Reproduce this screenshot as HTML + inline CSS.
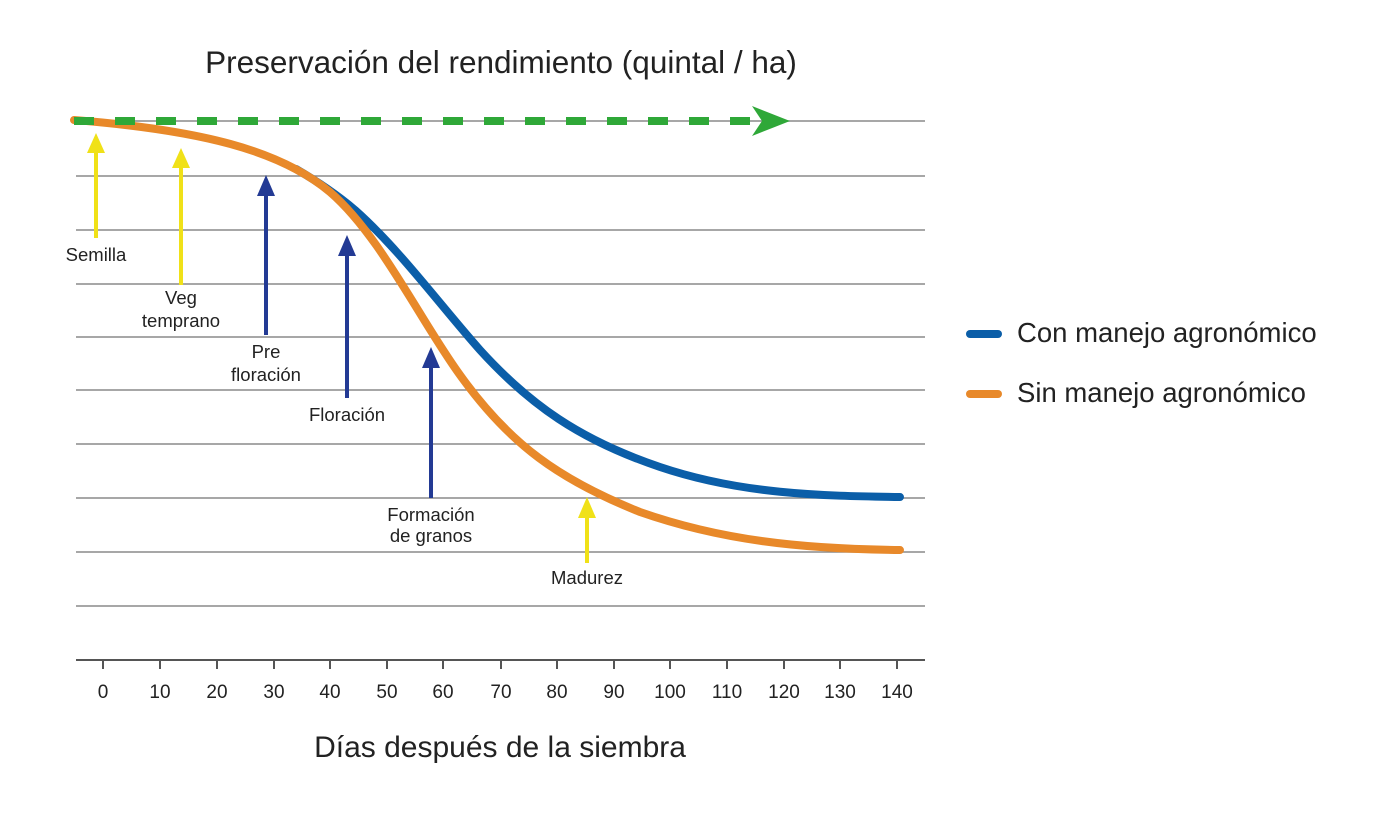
<!DOCTYPE html>
<html><head><meta charset="utf-8"><style>
html,body{margin:0;padding:0;background:#fff;}
svg{display:block;font-family:"Liberation Sans",sans-serif;}
</style></head><body>
<svg width="1400" height="816" viewBox="0 0 1400 816" xmlns="http://www.w3.org/2000/svg">
<text x="501" y="73" font-size="31.5" text-anchor="middle" fill="#222">Preservación del rendimiento (quintal / ha)</text>
<g stroke="#8a8a8a" stroke-width="1.5">
<line x1="76" y1="121" x2="925" y2="121"/>
<line x1="76" y1="176" x2="925" y2="176"/>
<line x1="76" y1="230" x2="925" y2="230"/>
<line x1="76" y1="284" x2="925" y2="284"/>
<line x1="76" y1="337" x2="925" y2="337"/>
<line x1="76" y1="390" x2="925" y2="390"/>
<line x1="76" y1="444" x2="925" y2="444"/>
<line x1="76" y1="498" x2="925" y2="498"/>
<line x1="76" y1="552" x2="925" y2="552"/>
<line x1="76" y1="606" x2="925" y2="606"/>
</g>
<line x1="76" y1="660" x2="925" y2="660" stroke="#555" stroke-width="2"/>
<g stroke="#555" stroke-width="2">
<line x1="103" y1="660" x2="103" y2="669"/><line x1="160" y1="660" x2="160" y2="669"/><line x1="217" y1="660" x2="217" y2="669"/><line x1="274" y1="660" x2="274" y2="669"/><line x1="330" y1="660" x2="330" y2="669"/><line x1="387" y1="660" x2="387" y2="669"/><line x1="443" y1="660" x2="443" y2="669"/><line x1="501" y1="660" x2="501" y2="669"/><line x1="557" y1="660" x2="557" y2="669"/><line x1="614" y1="660" x2="614" y2="669"/><line x1="670" y1="660" x2="670" y2="669"/><line x1="727" y1="660" x2="727" y2="669"/><line x1="784" y1="660" x2="784" y2="669"/><line x1="840" y1="660" x2="840" y2="669"/><line x1="897" y1="660" x2="897" y2="669"/>
</g>
<g font-size="19" fill="#222" text-anchor="middle">
<text x="103" y="698">0</text><text x="160" y="698">10</text><text x="217" y="698">20</text><text x="274" y="698">30</text><text x="330" y="698">40</text><text x="387" y="698">50</text><text x="443" y="698">60</text><text x="501" y="698">70</text><text x="557" y="698">80</text><text x="614" y="698">90</text><text x="670" y="698">100</text><text x="727" y="698">110</text><text x="784" y="698">120</text><text x="840" y="698">130</text><text x="897" y="698">140</text>
</g>
<text x="500" y="757" font-size="30" text-anchor="middle" fill="#222">Días después de la siembra</text>

<path d="M296,169 C315,180 335,193 355,210 C400,250 440,305 480,350 C530,405 580,440 660,467 C740,494 820,496 900,497" fill="none" stroke="#0b5ea8" stroke-width="8" stroke-linecap="round"/>
<path d="M74,120 C200,130 280,150 330,192 C380,235 420,320 460,375 C510,445 560,480 640,512 C720,540 800,549 900,550" fill="none" stroke="#e8892a" stroke-width="8" stroke-linecap="round"/>

<line x1="74" y1="121" x2="760" y2="121" stroke="#2fa838" stroke-width="8" stroke-dasharray="20,21"/>
<polygon points="752,106 790,121 752,136 762,121" fill="#2fa838"/>

<g stroke-width="4">
<line x1="96" y1="238" x2="96" y2="145" stroke="#f0e118"/><polygon points="87,153 96,133 105,153" fill="#f0e118"/>
<line x1="181" y1="285" x2="181" y2="160" stroke="#f0e118"/><polygon points="172,168 181,148 190,168" fill="#f0e118"/>
<line x1="266" y1="335" x2="266" y2="188" stroke="#233a94"/><polygon points="257,196 266,175 275,196" fill="#233a94"/>
<line x1="347" y1="398" x2="347" y2="248" stroke="#233a94"/><polygon points="338,256 347,235 356,256" fill="#233a94"/>
<line x1="431" y1="498" x2="431" y2="360" stroke="#233a94"/><polygon points="422,368 431,347 440,368" fill="#233a94"/>
<line x1="587" y1="563" x2="587" y2="510" stroke="#f0e118"/><polygon points="578,518 587,497 596,518" fill="#f0e118"/>
</g>
<g font-size="18.5" fill="#222" text-anchor="middle">
<text x="96" y="261">Semilla</text>
<text x="181" y="304">Veg</text><text x="181" y="327">temprano</text>
<text x="266" y="358">Pre</text><text x="266" y="381">floración</text>
<text x="347" y="421">Floración</text>
<text x="431" y="521">Formación</text><text x="431" y="542">de granos</text>
<text x="587" y="584">Madurez</text>
</g>
<line x1="970" y1="334" x2="998" y2="334" stroke="#0b5ea8" stroke-width="8" stroke-linecap="round"/>
<text x="1017" y="342" font-size="27.5" fill="#222">Con manejo agronómico</text>
<line x1="970" y1="394" x2="998" y2="394" stroke="#e8892a" stroke-width="8" stroke-linecap="round"/>
<text x="1017" y="402" font-size="27.5" fill="#222">Sin manejo agronómico</text>
</svg>
</body></html>
